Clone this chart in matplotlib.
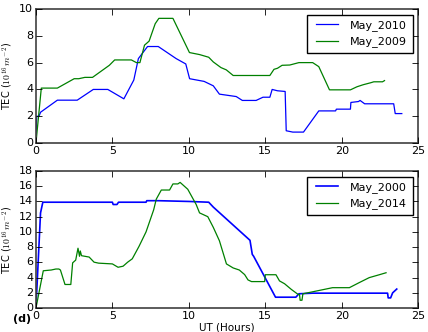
import numpy as np
import matplotlib
matplotlib.use("Agg")
import matplotlib.pyplot as plt

plt.style.use("classic")

# top panel: May 2010 / May 2009
ut_2010 = [0, 0.05, 0.2, 0.3, 1.4, 2.7, 3.75, 4.7, 5.75, 6.4, 6.7, 7.3, 8.0, 9.17, 9.8, 10.05,
           11.0, 11.6, 12.0, 13.1, 13.5, 14.4, 14.85, 15.3, 15.45, 15.8, 16.3, 16.37, 16.8,
           17.5, 18.5, 19.6, 19.65, 20.57, 20.6, 21.1, 21.2, 21.5, 23.4, 23.5, 23.93]
tec_2010 = [0.3, 2.0, 2.0, 2.3, 3.2, 3.2, 4.0, 4.0, 3.3, 4.7, 6.3, 7.2, 7.2, 6.3, 5.9, 4.8,
            4.6, 4.27, 3.65, 3.47, 3.18, 3.18, 3.42, 3.42, 4.0, 3.9, 3.85, 0.92, 0.82,
            0.82, 2.4, 2.4, 2.53, 2.53, 3.03, 3.1, 3.18, 2.93, 2.93, 2.2, 2.2]

ut_2009 = [0, 0.35, 1.4, 2.5, 2.8, 3.2, 3.7, 4.8, 5.15, 6.24, 6.57, 6.8, 7.1, 7.4, 7.8, 8.04,
           8.96, 10.04, 10.7, 11.0, 11.3, 11.6, 12.1, 12.45, 12.9, 15.3, 15.57, 15.8, 16.1,
           16.6, 17.2, 18.1, 18.5, 19.2, 20.57, 21.0, 21.4, 21.9, 22.1, 22.67, 22.8]
tec_2009 = [0.0, 4.1, 4.1, 4.8, 4.8, 4.9, 4.9, 5.8, 6.2, 6.2, 6.0, 6.0, 7.3, 7.6, 8.9, 9.3,
            9.3, 6.75, 6.6, 6.5, 6.4, 6.05, 5.63, 5.46, 5.04, 5.04, 5.5, 5.58, 5.8,
            5.82, 6.0, 6.0, 5.7, 3.97, 3.97, 4.2, 4.35, 4.5, 4.57, 4.57, 4.66]

# bottom panel: May 2000 / May 2014
ut_2000 = [0, 0.3, 0.45, 5.0, 5.05, 5.3, 5.4, 7.2, 7.25, 8.0, 10.0, 11.3, 11.6, 14.0, 14.15,
           14.24, 15.67, 17.0, 17.2, 18.1, 23.0, 23.04, 23.2, 23.33, 23.6]
tec_2000 = [0.0, 12.5, 13.9, 13.9, 13.6, 13.6, 13.9, 13.9, 14.1, 14.1, 14.0, 13.9, 13.26,
            8.9, 7.05, 6.8, 1.43, 1.43, 1.88, 1.96, 1.96, 1.34, 1.34, 2.0, 2.5]

ut_2014 = [0, 0.48, 1.0, 1.3, 1.5, 1.6, 1.9, 2.28, 2.4, 2.6, 2.75, 2.85, 2.9, 2.98, 3.48,
           3.8, 4.1, 5.0, 5.37, 5.7, 6.0, 6.3, 6.74, 7.2, 7.7, 7.87, 8.2, 8.74, 8.96, 9.28,
           9.43, 9.93, 10.48, 10.7, 11.24, 11.6, 12.0, 12.46, 12.9, 13.3, 13.65, 13.87, 14.1,
           14.96, 15.0, 15.7, 15.93, 16.26, 16.7, 17.15, 17.24, 17.28, 17.4, 17.46, 18.1,
           19.4, 20.5, 21.15, 21.8, 22.46, 22.9]
tec_2014 = [0.0, 4.9, 5.0, 5.13, 5.13, 5.0, 3.1, 3.1, 5.94, 6.3, 7.86, 6.8, 7.5, 6.88, 6.7,
            6.03, 5.9, 5.8, 5.36, 5.5, 6.03, 6.47, 8.1, 10.0, 12.9, 14.3, 15.5, 15.5, 16.3,
            16.3, 16.5, 15.6, 13.6, 12.5, 12.0, 10.6, 8.84, 5.8, 5.27, 5.0, 4.4, 3.7, 3.48,
            3.48, 4.38, 4.38, 3.57, 3.2, 2.46, 1.79, 1.79, 1.03, 1.03, 1.88, 2.14,
            2.68, 2.68, 3.35, 4.0, 4.38, 4.64]

fig = plt.figure(figsize=(4.28, 3.32), dpi=100, facecolor="white")
ax1 = fig.add_axes([0.084, 0.569, 0.893, 0.404])
ax2 = fig.add_axes([0.084, 0.072, 0.893, 0.413])

ax1.plot(ut_2010, tec_2010, color="b", lw=0.9, label="May_2010")
ax1.plot(ut_2009, tec_2009, color="g", lw=0.9, label="May_2009")
ax1.set_ylim(0, 10)
ax1.set_yticks([0, 2, 4, 6, 8, 10])

ax2.plot(ut_2000, tec_2000, color="b", lw=1.2, label="May_2000")
ax2.plot(ut_2014, tec_2014, color="g", lw=0.9, label="May_2014")
ax2.set_ylim(0, 18)
ax2.set_yticks(range(0, 19, 2))
ax2.set_xlabel("UT (Hours)", fontsize=7.5, labelpad=1)

for ax in (ax1, ax2):
    ax.set_xlim(0, 25)
    ax.set_xticks([0, 5, 10, 15, 20, 25])
    ax.tick_params(labelsize=8, pad=2, length=4, width=0.6)
    ax.set_ylabel(r"TEC ($10^{16}\,m^{-2}$)", fontsize=7, labelpad=3)
    for s in ax.spines.values():
        s.set_linewidth(1.2)
        s.set_color("0.25")
    ax.legend(loc="upper right", fontsize=8, frameon=True, fancybox=False,
              handlelength=2.6, borderpad=0.5, labelspacing=0.5)

fig.text(0.03, 0.03, "(d)", fontsize=8, fontweight="bold")

fig.savefig("out.png", dpi=100, facecolor="white")
